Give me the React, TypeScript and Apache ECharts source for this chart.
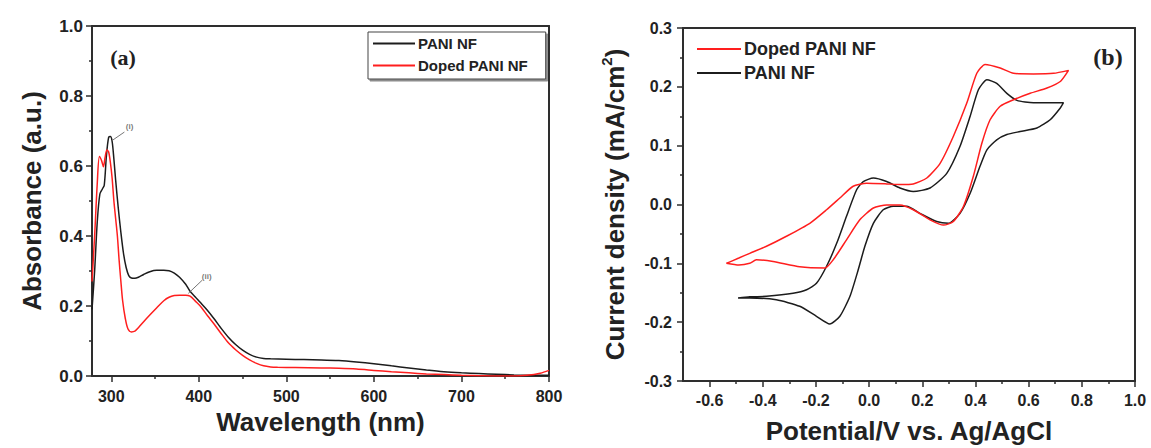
import React, { useEffect, useRef } from "react";
import * as echarts from "echarts";

// ---- Panel (a): UV-Vis absorbance ----
const paniWavelength = [278, 281, 284, 287, 290, 292, 294.5, 297, 299, 301, 303, 305, 308, 311, 314, 317, 320, 323, 327, 331, 337, 344, 352, 360, 366, 372, 378, 385, 390, 396, 401, 409, 417, 425, 434, 442, 450, 458, 466, 474, 482, 500, 520, 540, 560, 580, 600, 620, 640, 660, 680, 700, 720, 740, 760, 780, 800];
const paniAbsorbance = [0.19, 0.3, 0.44, 0.52, 0.535, 0.545, 0.63, 0.682, 0.684, 0.67, 0.62, 0.56, 0.48, 0.41, 0.35, 0.31, 0.287, 0.28, 0.279, 0.282, 0.29, 0.298, 0.302, 0.302, 0.301, 0.294, 0.282, 0.262, 0.242, 0.226, 0.212, 0.19, 0.165, 0.138, 0.11, 0.09, 0.074, 0.062, 0.054, 0.05, 0.049, 0.048, 0.047, 0.046, 0.044, 0.04, 0.035, 0.029, 0.023, 0.017, 0.012, 0.009, 0.007, 0.005, 0.003, 0.002, 0.002];

const dopedWavelength = [278, 281, 284, 286.5, 289, 291, 293, 295, 297, 299, 301, 303, 305, 307, 309, 311, 313, 316, 319, 323, 327, 331, 337, 344, 352, 360, 366, 372, 378, 385, 390, 396, 403, 410, 417, 425, 434, 442, 450, 458, 466, 474, 482, 490, 510, 540, 560, 580, 600, 620, 640, 660, 680, 700, 720, 740, 760, 775, 790, 800];
const dopedAbsorbance = [0.27, 0.4, 0.55, 0.627, 0.615, 0.598, 0.625, 0.646, 0.64, 0.61, 0.565, 0.5, 0.45, 0.4, 0.33, 0.27, 0.215, 0.165, 0.135, 0.126, 0.128, 0.138, 0.155, 0.174, 0.195, 0.215, 0.225, 0.23, 0.231, 0.231, 0.228, 0.214, 0.196, 0.172, 0.15, 0.123, 0.094, 0.075, 0.059, 0.046, 0.036, 0.029, 0.026, 0.025, 0.024, 0.023, 0.022, 0.02, 0.016, 0.012, 0.009, 0.006, 0.004, 0.002, 0.001, 0, 0, 0.002, 0.008, 0.016];

const wavelengthTicks = [300, 400, 500, 600, 700, 800];
const wavelengthMinorTicks = [350, 450, 550, 650, 750];

// peak markers (i) and (ii): leader line ends and label anchor
const peakOneLeader = [[300.5, 0.672], [315, 0.697]];
const peakOneLabel = [321, 0.712];
const peakTwoLeader = [[388, 0.236], [404, 0.274]];
const peakTwoLabel = [409, 0.283];

// ---- Panel (b): cyclic voltammograms ----
const dopedPotential = [-0.537, -0.49, -0.449, -0.386, -0.311, -0.223, -0.16, -0.11, -0.06, -0.009, 0.066, 0.116, 0.166, 0.217, 0.267, 0.317, 0.367, 0.405, 0.436, 0.493, 0.543, 0.618, 0.694, 0.75, 0.719, 0.669, 0.606, 0.543, 0.493, 0.455, 0.424, 0.392, 0.355, 0.317, 0.28, 0.229, 0.166, 0.116, 0.066, 0.016, -0.035, -0.085, -0.135, -0.166, -0.261, -0.361, -0.424, -0.449, -0.49, -0.537];
const dopedCurrent = [-0.1, -0.091, -0.083, -0.071, -0.054, -0.032, -0.009, 0.011, 0.031, 0.036, 0.035, 0.034, 0.035, 0.045, 0.07, 0.116, 0.172, 0.223, 0.238, 0.232, 0.223, 0.222, 0.223, 0.228, 0.209, 0.198, 0.189, 0.178, 0.167, 0.144, 0.104, 0.048, -0.003, -0.029, -0.035, -0.026, -0.009, -0.001, -0.001, -0.006, -0.026, -0.06, -0.094, -0.108, -0.106, -0.097, -0.094, -0.1, -0.103, -0.1];

const paniPotential = [-0.493, -0.449, -0.386, -0.286, -0.235, -0.198, -0.16, -0.122, -0.085, -0.047, -0.022, 0.016, 0.066, 0.116, 0.166, 0.229, 0.292, 0.342, 0.38, 0.411, 0.443, 0.48, 0.518, 0.556, 0.618, 0.731, 0.719, 0.681, 0.631, 0.568, 0.518, 0.48, 0.443, 0.417, 0.38, 0.342, 0.298, 0.254, 0.191, 0.141, 0.091, 0.053, 0.016, -0.016, -0.041, -0.072, -0.11, -0.148, -0.198, -0.261, -0.349, -0.449, -0.493];
const paniCurrent = [-0.159, -0.157, -0.156, -0.151, -0.145, -0.134, -0.105, -0.066, -0.02, 0.025, 0.039, 0.045, 0.039, 0.028, 0.022, 0.028, 0.053, 0.099, 0.15, 0.195, 0.212, 0.206, 0.189, 0.177, 0.173, 0.173, 0.164, 0.144, 0.13, 0.124, 0.119, 0.11, 0.093, 0.065, 0.019, -0.015, -0.032, -0.029, -0.015, -0.003, -0.003, -0.009, -0.032, -0.071, -0.111, -0.156, -0.19, -0.203, -0.19, -0.173, -0.162, -0.159, -0.159];

const potentialTicks = [-0.6, -0.4, -0.2, 0, 0.2, 0.4, 0.6, 0.8, 1.0];
const potentialMinorTicks = [-0.5, -0.3, -0.1, 0.1, 0.3, 0.5, 0.7, 0.9];

const PANI = "PANI NF";
const DOPED = "Doped PANI NF";
const BLACK = "#1c1c1c";
const RED = "#ff1e1e";
const AXIS = "#2e2e2e";
const SANS = '"Liberation Sans", Arial, sans-serif';
const SERIF = '"Liberation Serif", "Times New Roman", serif';

const zip = (xs: number[], ys: number[]) => xs.map((x, i) => [x, ys[i]]);

const axisLine = { show: true, onZero: false, lineStyle: { color: AXIS, width: 2 } };
const tickStyle = { color: AXIS, width: 1.5 };
const labelStyle = { fontSize: 16, fontWeight: "bold" as const, color: "#222", fontFamily: SANS };
const nameStyle = { fontSize: 26, fontWeight: "bold" as const, color: "#222", fontFamily: SANS };

// plain frame lines on the top and right of each plot
const frameX = (gridIndex: number, min: number, max: number) => ({
  type: "value", gridIndex, position: "top", min, max,
  axisLine: { show: true, onZero: false, lineStyle: { color: AXIS, width: 2 } },
  axisTick: { show: false }, axisLabel: { show: false }, splitLine: { show: false },
});
const frameY = (gridIndex: number, min: number, max: number) => ({
  type: "value", gridIndex, position: "right", min, max,
  axisLine: { show: true, onZero: false, lineStyle: { color: AXIS, width: 2 } },
  axisTick: { show: false }, axisLabel: { show: false }, splitLine: { show: false },
});

export default function App() {
  const ref = useRef<HTMLDivElement>(null);

  useEffect(() => {
    if (!ref.current) return;
    const chart = echarts.init(ref.current, undefined, { renderer: "svg" });

    const option: any = {
      animation: false,
      backgroundColor: "#ffffff",
      textStyle: { fontFamily: SANS },
      grid: [
        { left: 92, top: 26, width: 457, height: 350, containLabel: false, outerBoundsMode: "none" },
        { left: 683, top: 28, width: 452, height: 353, containLabel: false, outerBoundsMode: "none" },
      ],
      xAxis: [
        {
          type: "value", gridIndex: 0, position: "bottom", min: 278, max: 800,
          axisLine,
          axisTick: { show: true, length: 6, customValues: wavelengthTicks, lineStyle: tickStyle },
          axisLabel: { ...labelStyle, margin: 12, customValues: wavelengthTicks, formatter: (v: number) => String(Math.round(v)) },
          splitLine: { show: false },
          name: "Wavelength (nm)", nameLocation: "middle", nameGap: 32, nameTextStyle: nameStyle,
        },
        {
          type: "value", gridIndex: 0, position: "bottom", min: 278, max: 800,
          axisLine: { show: false, onZero: false },
          axisTick: { show: true, length: 3, customValues: wavelengthMinorTicks, lineStyle: tickStyle },
          axisLabel: { show: false },
          splitLine: { show: false },
        },
        {
          type: "value", gridIndex: 1, position: "bottom", min: -0.7, max: 1.0,
          axisLine,
          axisTick: { show: true, length: 6, customValues: potentialTicks, lineStyle: tickStyle },
          axisLabel: { ...labelStyle, margin: 11, customValues: potentialTicks, formatter: (v: number) => v.toFixed(1) },
          splitLine: { show: false },
          name: "Potential/V vs. Ag/AgCl", nameLocation: "middle", nameGap: 37, nameTextStyle: nameStyle,
        },
        {
          type: "value", gridIndex: 1, position: "bottom", min: -0.7, max: 1.0,
          axisLine: { show: false, onZero: false },
          axisTick: { show: true, length: 3, customValues: potentialMinorTicks, lineStyle: tickStyle },
          axisLabel: { show: false },
          splitLine: { show: false },
        },
        frameX(0, 278, 800),
        frameX(1, -0.7, 1.0),
      ],
      yAxis: [
        {
          type: "value", gridIndex: 0, position: "left", min: 0, max: 1, interval: 0.2,
          axisLine,
          axisTick: { show: true, length: 6, lineStyle: tickStyle },
          minorTick: { show: true, splitNumber: 2, length: 3, lineStyle: tickStyle },
          axisLabel: { ...labelStyle, fontSize: 17, margin: 9, formatter: (v: number) => v.toFixed(1) },
          splitLine: { show: false },
          minorSplitLine: { show: false },
          name: "Absorbance (a.u.)", nameLocation: "middle", nameGap: 47, nameTextStyle: nameStyle,
        },
        {
          type: "value", gridIndex: 1, position: "left", min: -0.3, max: 0.3, interval: 0.1,
          axisLine,
          axisTick: { show: true, length: 6, lineStyle: tickStyle },
          minorTick: { show: true, splitNumber: 2, length: 3, lineStyle: tickStyle },
          axisLabel: { ...labelStyle, margin: 11, formatter: (v: number) => v.toFixed(1) },
          splitLine: { show: false },
          minorSplitLine: { show: false },
          name: "{a|Current density (mA/cm}{s|2}{a|)}", nameLocation: "middle", nameGap: 52,
          nameTextStyle: {
            ...nameStyle,
            rich: {
              a: { fontSize: 26, fontWeight: "bold", color: "#222", fontFamily: SANS, lineHeight: 32 },
              s: { fontSize: 15, fontWeight: "bold", color: "#222", fontFamily: SANS, lineHeight: 14, verticalAlign: "top" },
            },
          },
        },
        frameY(0, 0, 1),
        frameY(1, -0.3, 0.3),
      ],
      legend: [
        {
          left: 368, top: 32, orient: "vertical", data: [PANI, DOPED],
          icon: "rect", itemWidth: 42, itemHeight: 2, itemGap: 7, padding: [4, 18, 6, 5],
          textStyle: { fontSize: 15, fontWeight: "bold", color: "#222", fontFamily: SANS, padding: [0, 0, 0, -2] },
          borderColor: "#444", borderWidth: 1, backgroundColor: "#fff",
          shadowColor: "rgba(0,0,0,0.45)", shadowBlur: 1, shadowOffsetX: 2, shadowOffsetY: 2,
          selectedMode: false,
        },
        {
          left: 697, top: 40, orient: "vertical", data: [DOPED, PANI],
          icon: "rect", itemWidth: 44, itemHeight: 2, itemGap: 6, padding: 0,
          textStyle: { fontSize: 18, fontWeight: "bold", color: "#222", fontFamily: SANS, padding: [0, 0, 0, -2] },
          selectedMode: false,
        },
      ],
      series: [
        {
          name: PANI, type: "line", xAxisIndex: 0, yAxisIndex: 0, data: zip(paniWavelength, paniAbsorbance),
          symbol: "none", smooth: 0.3, lineStyle: { color: BLACK, width: 1.5 }, itemStyle: { color: BLACK },
        },
        {
          name: DOPED, type: "line", xAxisIndex: 0, yAxisIndex: 0, data: zip(dopedWavelength, dopedAbsorbance),
          symbol: "none", smooth: 0.3, lineStyle: { color: RED, width: 1.5 }, itemStyle: { color: RED },
        },
        {
          name: "peak-i", type: "line", xAxisIndex: 0, yAxisIndex: 0, data: peakOneLeader, silent: true,
          symbol: "none", lineStyle: { color: "#666", width: 0.9 },
        },
        {
          name: "peak-ii", type: "line", xAxisIndex: 0, yAxisIndex: 0, data: peakTwoLeader, silent: true,
          symbol: "none", lineStyle: { color: "#666", width: 0.9 },
        },
        {
          name: "peak-labels", type: "scatter", xAxisIndex: 0, yAxisIndex: 0, symbolSize: 0, silent: true,
          data: [
            { value: peakOneLabel, label: { formatter: "(i)" } },
            { value: peakTwoLabel, label: { formatter: "(ii)" } },
          ],
          label: { show: true, position: "inside", fontSize: 8, fontWeight: "bold", color: "#555", fontFamily: SANS },
        },
        {
          name: PANI, type: "line", xAxisIndex: 2, yAxisIndex: 1, data: zip(paniPotential, paniCurrent),
          symbol: "none", smooth: 0.2, lineStyle: { color: BLACK, width: 1.5 }, itemStyle: { color: BLACK },
        },
        {
          name: DOPED, type: "line", xAxisIndex: 2, yAxisIndex: 1, data: zip(dopedPotential, dopedCurrent),
          symbol: "none", smooth: 0.2, lineStyle: { color: RED, width: 1.5 }, itemStyle: { color: RED },
        },
      ],
      graphic: [
        {
          type: "text", x: 123, y: 57,
          style: { text: "(a)", fontSize: 22, fontWeight: "bold", fontFamily: SERIF, fill: "#222", align: "center", verticalAlign: "middle" },
        },
        {
          type: "text", x: 1108, y: 57,
          style: { text: "(b)", fontSize: 24, fontWeight: "bold", fontFamily: SERIF, fill: "#222", align: "center", verticalAlign: "middle" },
        },
      ],
    };

    chart.setOption(option);
    return () => chart.dispose();
  }, []);

  return (
    <div
      ref={ref}
      style={{ position: "fixed", left: 0, top: 0, width: 1151, height: 448, background: "#fff" }}
    />
  );
}
